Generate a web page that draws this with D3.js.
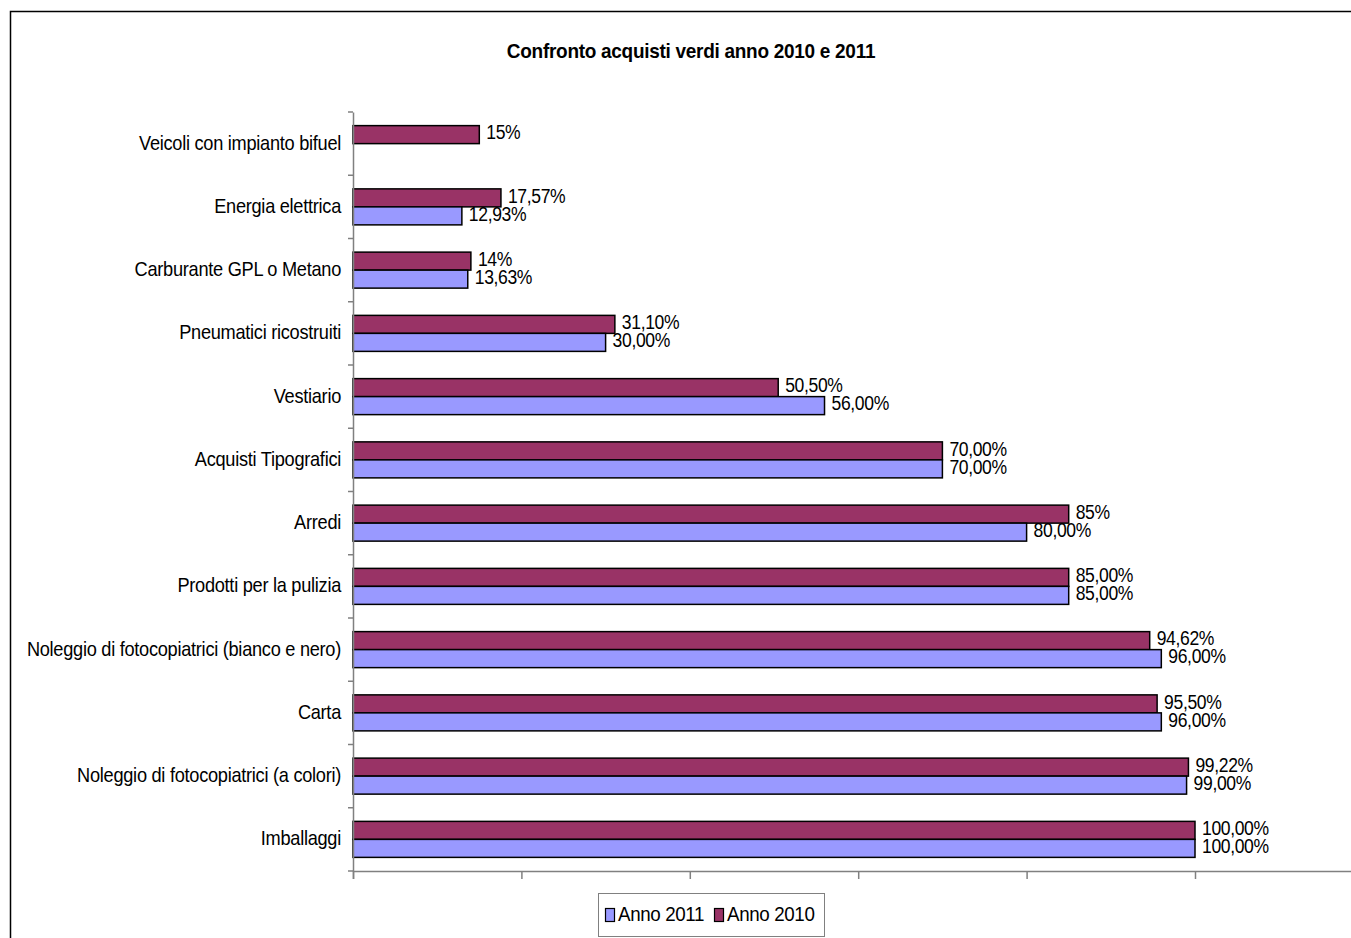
<!DOCTYPE html>
<html><head><meta charset="utf-8">
<script src="https://cdn.jsdelivr.net/npm/d3@7"></script>
<style>body{margin:0;background:#fff}svg{display:block}text{font-family:"Liberation Sans",Arial,sans-serif}</style>
</head><body>
<script>
const categories = ["Veicoli con impianto bifuel","Energia elettrica","Carburante GPL o Metano","Pneumatici ricostruiti","Vestiario","Acquisti Tipografici","Arredi","Prodotti per la pulizia","Noleggio di fotocopiatrici (bianco e nero)","Carta","Noleggio di fotocopiatrici (a colori)","Imballaggi"];
const values2010 = [15, 17.57, 14, 31.10, 50.50, 70, 85, 85, 94.62, 95.50, 99.22, 100];
const values2011 = [null, 12.93, 13.63, 30.00, 56.00, 70, 80, 85, 96, 96, 99, 100];
const labels2010 = ["15%","17,57%","14%","31,10%","50,50%","70,00%","85%","85,00%","94,62%","95,50%","99,22%","100,00%"];
const labels2011 = ["","12,93%","13,63%","30,00%","56,00%","70,00%","80,00%","85,00%","96,00%","96,00%","99,00%","100,00%"];
const seriesNames = ["Anno 2010","Anno 2011"];
const seriesLegend = ["Anno 2011","Anno 2010"];
const xTicks = [0,20,40,60,80,100,120];
const title = "Confronto acquisti verdi anno 2010 e 2011";

const W=1351,H=938;
const colors = {"Anno 2010":"#993366","Anno 2011":"#9999FF"};
const svg = d3.select("body").append("svg").attr("width",W).attr("height",H);
svg.append("rect").attr("x",10.5).attr("y",11.5).attr("width",W+20).attr("height",H+20).attr("fill","#fff").attr("stroke","#000").attr("stroke-width",1.5);

function ctext(parent, x, y, str, opts){
  const g = parent.append("g").attr("transform",`translate(${x},${y})`);
  g.append("text").attr("transform",`scale(${opts.sx},1)`)
    .attr("font-size",opts.size).attr("text-anchor",opts.anchor||"start")
    .attr("dy","0.35em").attr("letter-spacing",opts.ls||-0.3)
    .attr("font-weight",opts.weight||"normal").attr("fill","#000").text(str);
  return g;
}

ctext(svg, 691, 51, title, {size:20, weight:"bold", anchor:"middle", sx:0.95, ls:-0.3});

const x = d3.scaleLinear().domain([0,120]).range([353,1363.4]);
const y = d3.scaleBand().domain(categories).range([112,871]);
const bh = 18;
const inner = d3.scaleBand().domain(seriesNames).range([y.bandwidth()/2-bh, y.bandwidth()/2+bh]);

const rows = categories.map((c,i)=>({c, vals:[
  {s:"Anno 2010", v:values2010[i], l:labels2010[i]},
  {s:"Anno 2011", v:values2011[i], l:labels2011[i]}]}));

const g = svg.append("g");
const grp = g.selectAll("g.cat").data(rows).join("g").attr("class","cat").attr("transform",d=>`translate(0,${y(d.c)})`);
grp.selectAll("rect").data(d=>d.vals.filter(v=>v.v!=null)).join("rect")
  .attr("x",x(0)).attr("y",d=>inner(d.s)).attr("width",d=>x(d.v)-x(0)).attr("height",inner.bandwidth())
  .attr("fill",d=>colors[d.s]).attr("stroke","#000").attr("stroke-width",1.5);
grp.each(function(d){
  const sel = d3.select(this);
  d.vals.filter(v=>v.v!=null).forEach(v=>{
    ctext(sel, x(v.v)+7, inner(v.s)+inner.bandwidth()/2-2, v.l, {size:19.5, sx:0.9, ls:-0.4});
  });
});

// y axis
const yAxis = d3.axisLeft(y).tickSize(0).tickFormat("");
const ya = svg.append("g").attr("transform",`translate(${x(0)},0)`).call(yAxis);
ya.select(".domain").attr("stroke","#808080").attr("stroke-width",1.5);
ya.selectAll(".tick").each(function(c){
  ctext(d3.select(this), -12, -1, c, {size:20, sx:0.91, anchor:"end", ls:-0.3});
});
// boundary ticks
const bounds = categories.map(c=>y(c)).concat([y.range()[1]]);
svg.append("g").selectAll("line").data(bounds).join("line")
  .attr("x1",x(0)-5).attr("x2",x(0)).attr("y1",d=>d).attr("y2",d=>d).attr("stroke","#808080").attr("stroke-width",1.5);

// x axis
const xAxis = d3.axisBottom(x).tickValues(xTicks).tickSize(8).tickFormat("");
const xa = svg.append("g").attr("transform",`translate(0,871)`).call(xAxis);
xa.select(".domain").attr("stroke","#808080").attr("stroke-width",1.5);
xa.selectAll(".tick line").attr("stroke","#808080").attr("stroke-width",1.5);

// legend
const lg = svg.append("g");
lg.append("rect").attr("x",598.5).attr("y",893.5).attr("width",226).attr("height",43).attr("fill","#fff").attr("stroke","#808080");
const litems = [{s:"Anno 2011",x:605},{s:"Anno 2010",x:714}];
litems.forEach((it,i)=>{
  lg.append("rect").attr("x",it.x+0.5).attr("y",908.5).attr("width",9).attr("height",13).attr("fill",colors[it.s]).attr("stroke","#000").attr("stroke-width",1.2);
  ctext(lg, it.x+13, 914, seriesLegend[i], {size:20, sx:0.94, ls:-0.4});
});
</script>
</body></html>
